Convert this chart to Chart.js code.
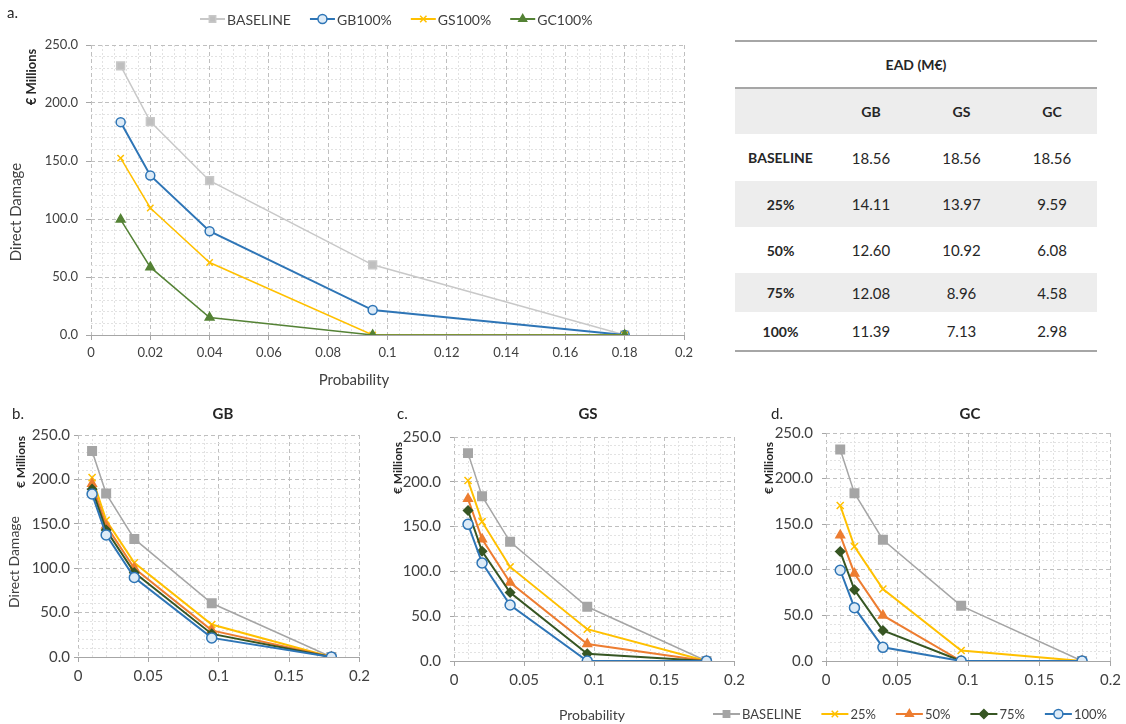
<!DOCTYPE html>
<html>
<head>
<meta charset="utf-8">
<script src="https://cdn.jsdelivr.net/npm/chart.js@4.4.0/dist/chart.umd.min.js"></script>
<style>
	body { margin: 0; background: #fff; width: 1126px; height: 724px; overflow: hidden; position: relative; font-family: Lato, sans-serif; }
	canvas { position: absolute; }
	#ead { position: absolute; left: 735px; top: 40px; width: 362px; border-collapse: collapse; color: #262626; table-layout: fixed; }
	#ead td { padding: 0; text-align: center; vertical-align: middle; font-size: 15px; }
	#ead td.lab { font-weight: bold; font-size: 14px; }
	#ead tr.title td { border-top: 2px solid #A6A6A6; border-bottom: 2px solid #A6A6A6; font-weight: bold; font-size: 14px; }
	#ead tr.band td { background: #EDEDED; }
	#ead tr.last td { border-bottom: 2px solid #A6A6A6; }
</style>
</head>
<body>
<canvas id="chartA" width="700" height="395" style="left:0;top:0"></canvas>
<canvas id="chartB" width="375" height="339" style="left:0;top:385px"></canvas>
<canvas id="chartC" width="375" height="339" style="left:375px;top:385px"></canvas>
<canvas id="chartD" width="426" height="339" style="left:700px;top:385px"></canvas>
<table id="ead"></table>
<script>
// Ehtimollik (x o'qi)
const probability = [0.01, 0.02, 0.04, 0.095, 0.18]

// To'g'ridan-to'g'ri zarar, € mln
const baseline = [232, 184, 133, 60.5, 0]
const gb25 = [202, 154, 106, 36.5, 0]
const gb50 = [195, 148, 100, 30, 0]
const gb75 = [189, 143, 95, 26, 0]
const gb100 = [183.5, 137.5, 89.5, 21.5, 0]
const gs25 = [201.5, 155.5, 105, 35.5, 0]
const gs50 = [181, 136, 87.5, 19, 0]
const gs75 = [168, 122.5, 76.5, 8, 0]
const gs100 = [152.5, 109.5, 62.5, 0, 0]
const gc25 = [170.5, 125.5, 79, 11.5, 0]
const gc50 = [138, 96, 50, 0, 0]
const gc75 = [120, 78, 33.5, 0, 0]
const gc100 = [99.5, 58.5, 15, 0, 0]

// EAD jadvali
const eadHeader = ['GB', 'GS', 'GC']
const eadScenario = ['BASELINE', '25%', '50%', '75%', '100%']
const eadGB = ['18.56', '14.11', '12.60', '12.08', '11.39']
const eadGS = ['18.56', '13.97', '10.92', '8.96', '7.13']
const eadGC = ['18.56', '9.59', '6.08', '4.58', '2.98']

const textColor = '#404040'

function series(label, values, color, style, fill, radius, width, order) {
	return {
		label,
		data: values.map((y, i) => ({ x: probability[i], y })),
		borderColor: color,
		backgroundColor: fill,
		borderWidth: width,
		pointStyle: style,
		pointRadius: radius,
		pointBackgroundColor: fill,
		pointBorderColor: color,
		pointBorderWidth: 1.5,
		tension: 0,
		order,
	}
}

function axis(max, major, minor, fmt, o) {
	const isMajor = v => Math.abs(v / major - Math.round(v / major)) < 1e-6
	return {
		type: 'linear',
		min: 0,
		max,
		afterBuildTicks: s => {
			const n = Math.round(max / minor)
			s.ticks = Array.from({ length: n + 1 }, (_, i) => ({ value: +(i * minor).toFixed(6) }))
		},
		afterFit: s => {
			if (o.axis === 'x') s.height = o.size
			else s.width = o.size
		},
		ticks: {
			autoSkip: false,
			maxRotation: 0,
			padding: o.pad,
			color: textColor,
			font: { family: 'Lato', size: o.font },
			callback: v => (isMajor(v) ? fmt(v) : ''),
		},
		grid: {
			color: c => (o.axis === 'y' && c.tick.value === 0 ? 'transparent' : isMajor(c.tick.value) ? '#BFBFBF' : '#E2E2E2'),
			lineWidth: 1,
			tickLength: o.tick,
			tickColor: c => (isMajor(c.tick.value) ? '#A6A6A6' : 'transparent'),
			tickBorderDash: [],
		},
		border: {
			display: o.axis === 'x',
			color: '#A6A6A6',
			width: 1,
			dash: c => (c.type === 'tick' ? (isMajor(c.tick.value) ? [4, 3] : [2, 2]) : []),
		},
	}
}

const fmtX = v => String(+v.toFixed(3))
const fmtY = v => v.toFixed(1)

// Qo'shimcha matnlar (harflar, sarlavhalar, o'q nomlari)
function captionPlugin(list) {
	return {
		id: 'captions',
		afterDraw(chart) {
			const ctx = chart.ctx
			list.forEach(c => {
				ctx.save()
				ctx.translate(c.x, c.y)
				if (c.rot) ctx.rotate(-Math.PI / 2)
				ctx.font = c.font
				ctx.fillStyle = c.color || textColor
				ctx.textAlign = c.align || 'center'
				ctx.textBaseline = 'middle'
				ctx.fillText(c.t, 0, 0)
				ctx.restore()
			})
		},
	}
}

// Excel uslubidagi legenda: chiziq + belgi + matn
function legendPlugin(x0, y0, lineW, gap, font) {
	return {
		id: 'lineLegend',
		afterDraw(chart) {
			const ctx = chart.ctx
			let x = x0
			ctx.save()
			ctx.font = font
			ctx.textBaseline = 'middle'
			chart.data.datasets.forEach(ds => {
				ctx.strokeStyle = ds.borderColor
				ctx.lineWidth = 2
				ctx.beginPath()
				ctx.moveTo(x, y0)
				ctx.lineTo(x + lineW, y0)
				ctx.stroke()
				ctx.fillStyle = ds.pointBackgroundColor
				ctx.strokeStyle = ds.pointBorderColor
				ctx.lineWidth = 1.5
				Chart.helpers.drawPoint(ctx, { pointStyle: ds.pointStyle, radius: Math.min(ds.pointRadius, 4.5), borderWidth: 1.5, rotation: 0 }, x + lineW / 2, y0)
				ctx.fillStyle = textColor
				ctx.textAlign = 'left'
				ctx.fillText(ds.label, x + lineW + 2, y0 + 1)
				x += lineW + 2 + ctx.measureText(ds.label).width + gap
			})
			ctx.restore()
		},
	}
}

function makeChart(id, datasets, o, plugins) {
	return new Chart(document.getElementById(id), {
		type: 'line',
		data: { datasets },
		options: {
			responsive: false,
			animation: false,
			layout: { padding: { top: o.top, right: o.right, left: 0, bottom: 0 } },
			plugins: { legend: { display: false }, tooltip: { enabled: false } },
			scales: {
				x: axis(0.2, o.xMajor, o.xMinor, fmtX, { axis: 'x', size: o.xH, pad: o.xPad, tick: 5, font: o.font }),
				y: axis(250, 50, 10, fmtY, { axis: 'y', size: o.yW, pad: o.yPad, tick: o.yTick, font: o.font }),
			},
		},
		plugins,
	})
}

// a. Asosiy grafik
makeChart('chartA', [
	series('BASELINE', baseline, '#C8C8C8', 'rect', '#BFBFBF', 5.5, 1.5, 4),
	series('GB100%', gb100, '#2E75B6', 'circle', '#DDEBF7', 4.5, 2, 3),
	series('GS100%', gs100, '#FFC000', 'crossRot', '#FFC000', 4.5, 1.5, 2),
	series('GC100%', gc100, '#548235', 'triangle', '#548235', 5, 1.5, 1),
], { top: 45, right: 16, xH: 60, yW: 91, xMajor: 0.02, xMinor: 0.004, xPad: 5, yPad: 8, yTick: 5, font: 13 }, [
	legendPlugin(200, 19, 25, 19, '14px Lato'),
	captionPlugin([
		{ t: 'a.', x: 7, y: 13, font: '15px Lato', align: 'left', color: '#262626' },
		{ t: 'Direct Damage', x: 16, y: 212, font: '15px Lato', rot: true },
		{ t: '€ Millions', x: 32, y: 77, font: 'bold 13px Lato', rot: true, color: '#262626' },
		{ t: 'Probability', x: 354, y: 380, font: '15px Lato' },
	]),
])

function panel(prefix, v25, v50, v75, v100) {
	return [
		series('BASELINE', baseline, '#A5A5A5', 'rect', '#A5A5A5', 6, 1.5, 5),
		series('25%', v25, '#FFC000', 'crossRot', '#FFC000', 5, 2, 4),
		series('50%', v50, '#ED7D31', 'triangle', '#ED7D31', 5, 2, 3),
		series('75%', v75, '#375623', 'rectRot', '#375623', 4.5, 2, 2),
		series('100%', v100, '#2E75B6', 'circle', '#DDEBF7', 5, 2, 1),
	]
}

// b. GB
makeChart('chartB', panel('GB', gb25, gb50, gb75, gb100),
	{ top: 50, right: 11, xH: 67, yW: 78, xMajor: 0.05, xMinor: 0.01, xPad: 5, yPad: 4, yTick: 4, font: 15 }, [
	captionPlugin([
		{ t: 'b.', x: 12, y: 29, font: '15px Lato', align: 'left', color: '#262626' },
		{ t: 'GB', x: 223, y: 29, font: 'bold 15px Lato', color: '#262626' },
		{ t: 'Direct Damage', x: 14, y: 177, font: '14px Lato', rot: true },
		{ t: '€ Millions', x: 21, y: 77, font: 'bold 12px Lato', rot: true, color: '#262626' },
	]),
])

// c. GS
makeChart('chartC', panel('GS', gs25, gs50, gs75, gs100),
	{ top: 52, right: 8, xH: 63, yW: 79, xMajor: 0.05, xMinor: 0.01, xPad: 5, yPad: 9, yTick: 4, font: 15 }, [
	captionPlugin([
		{ t: 'c.', x: 22, y: 29, font: '15px Lato', align: 'left', color: '#262626' },
		{ t: 'GS', x: 213, y: 29, font: 'bold 15px Lato', color: '#262626' },
		{ t: '€ Millions', x: 23, y: 83, font: 'bold 12px Lato', rot: true, color: '#262626' },
		{ t: 'Probability', x: 217, y: 330, font: '14px Lato' },
	]),
])

// d. GC (pastki legenda shu kanvasda)
makeChart('chartD', panel('GC', gc25, gc50, gc75, gc100),
	{ top: 48, right: 14, xH: 63, yW: 126, xMajor: 0.05, xMinor: 0.01, xPad: 5, yPad: 9, yTick: 4, font: 15 }, [
	legendPlugin(13, 329, 27, 20, '13px Lato'),
	captionPlugin([
		{ t: 'd.', x: 71, y: 29, font: '15px Lato', align: 'left', color: '#262626' },
		{ t: 'GC', x: 270, y: 29, font: 'bold 15px Lato', color: '#262626' },
		{ t: '€ Millions', x: 69, y: 83, font: 'bold 12px Lato', rot: true, color: '#262626' },
	]),
])

// EAD jadvali
const table = document.getElementById('ead')
const colW = [91, 90, 91, 90]
const rowH = [47, 47, 46, 46, 39, 39]
let html = '<colgroup>' + colW.map(w => `<col style="width:${w}px">`).join('') + '</colgroup>'
html += '<tr class="title" style="height:47px"><td colspan="4">EAD (M€)</td></tr>'
html += `<tr class="band" style="height:46px"><td></td>${eadHeader.map(h => `<td class="lab">${h}</td>`).join('')}</tr>`
eadScenario.forEach((s, i) => {
	const cls = [i % 2 === 1 ? 'band' : '', i === eadScenario.length - 1 ? 'last' : ''].join(' ')
	html += `<tr class="${cls}" style="height:${rowH[i + 1]}px"><td class="lab">${s}</td><td>${eadGB[i]}</td><td>${eadGS[i]}</td><td>${eadGC[i]}</td></tr>`
})
table.innerHTML = html
</script>
</body>
</html>
